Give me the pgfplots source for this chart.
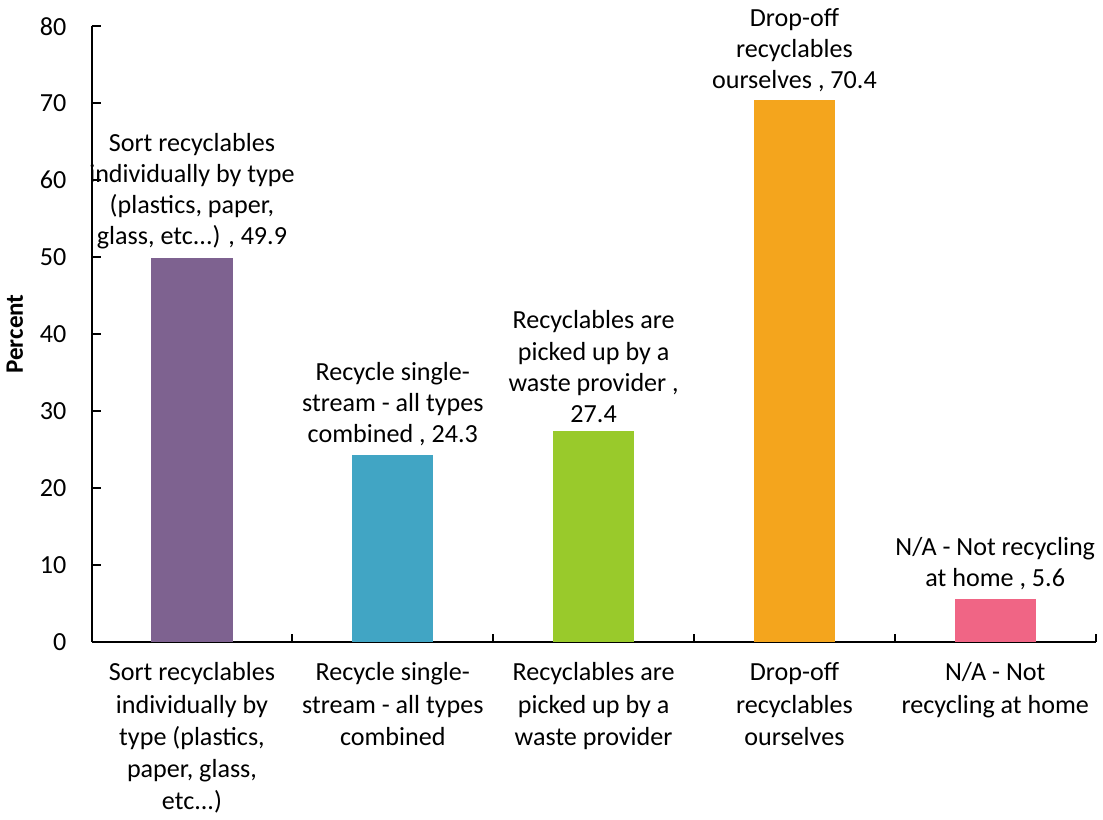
\documentclass[border=0pt]{standalone}
\usepackage{fontspec}
\setmainfont{Carlito}
\usepackage{pgfplots}
\pgfplotsset{compat=1.18}
\definecolor{cpurple}{HTML}{7E6290}
\definecolor{cblue}{HTML}{41A5C4}
\definecolor{cgreen}{HTML}{99CA2B}
\definecolor{corange}{HTML}{F4A51D}
\definecolor{cpink}{HTML}{F06585}
\newcommand{\tdots}{.{}.{}.}
\begin{document}
\begin{tikzpicture}
\begin{axis}[
    ybar,
    scale only axis,
    width=500pt, height=306.5pt,
    xmin=-0.5, xmax=4.5,
    ymin=0, ymax=80,
    ytick={0,10,20,30,40,50,60,70,80},
    xtick={0,1,2,3,4},
    xticklabels={
        {Sort recyclables\\individually by\\type (plastics,\\paper, glass,\\etc\tdots)},
        {Recycle single-\\stream - all types\\combined},
        {Recyclables are\\picked up by a\\waste provider},
        {Drop-off\\recyclables\\ourselves},
        {N/A - Not\\recycling at home}},
    minor xtick={-0.5,0.5,1.5,2.5,3.5,4.5},
    major x tick style={draw=none},
    minor tick length=4pt,
    major tick length=4.5pt,
    tick align=inside,
    axis x line*=bottom,
    axis y line*=left,
    axis line style={-, line width=1pt, black},
    tick style={line width=1pt, black},
    xticklabel style={font=\fontsize{13}{16}\selectfont, align=center, yshift=-7pt},
    yticklabel style={font=\fontsize{13}{15}\selectfont, xshift=-9pt},
    /pgf/number format/assume math mode=true,
    ylabel={\bfseries Percent},
    ylabel style={font=\fontsize{12.5}{14}\selectfont, yshift=1.5pt},
    bar width=40.5pt,
    bar shift=0pt,
    point meta=explicit symbolic,
    nodes near coords,
    nodes near coords style={font=\fontsize{13}{15.5}\selectfont, align=center, black, inner sep=4pt},
]
\addplot[fill=cpurple, draw=none] coordinates {(0,49.9) [{Sort recyclables\\individually by type\\(plastics, paper,\\glass, etc\tdots) , 49.9}]};
\addplot[fill=cblue, draw=none] coordinates {(1,24.3) [{Recycle single-\\stream - all types\\combined , 24.3}]};
\addplot[fill=cgreen, draw=none] coordinates {(2,27.4) [{Recyclables are\\picked up by a\\waste provider ,\\27.4}]};
\addplot[fill=corange, draw=none] coordinates {(3,70.4) [{Drop-off\\recyclables\\ourselves , 70.4}]};
\addplot[fill=cpink, draw=none] coordinates {(4,5.6) [{N/A - Not recycling\\at home , 5.6}]};
\end{axis}
\end{tikzpicture}
\end{document}
